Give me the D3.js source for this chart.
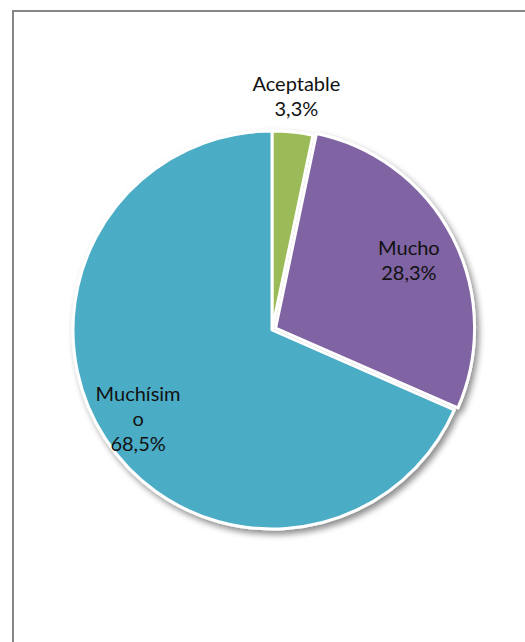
<!DOCTYPE html>
<html>
<head>
<meta charset="utf-8">
<script src="https://cdn.jsdelivr.net/npm/d3@7/dist/d3.min.js"></script>
<style>
  html, body { margin: 0; padding: 0; background: #fff; }
  svg { display: block; }
</style>
</head>
<body>
<svg id="chart" width="525" height="642"></svg>
<script>
// Survey answers and their shares (%)
const categories = ["Aceptable", "Mucho", "Muchísimo"];
const values = [3.3, 28.3, 68.5];
const valueLabels = ["3,3%", "28,3%", "68,5%"];
// Category text as it wraps inside the label box
const labelLines = [["Aceptable"], ["Mucho"], ["Muchísim", "o"]];
const colors = ["#9BBB59", "#8064A2", "#4BACC6"];

const width = 525, height = 642;
const cx = 272, cy = 330, radius = 199;
// Outward offset of each slice and radius at which each label sits
const explode = [0, 4, 0];
const labelRadius = [236, 154, 160];

const svg = d3.select("#chart");

// Chart area frame
svg.append("rect")
  .attr("x", 13).attr("y", 11)
  .attr("width", width).attr("height", height)
  .attr("fill", "#fff")
  .attr("stroke", "#878787")
  .attr("stroke-width", 2);

const defs = svg.append("defs");
const shadow = defs.append("filter")
  .attr("id", "pieShadow")
  .attr("x", "-20%").attr("y", "-20%")
  .attr("width", "140%").attr("height", "140%");
shadow.append("feDropShadow")
  .attr("dx", 3).attr("dy", 4)
  .attr("stdDeviation", 3)
  .attr("flood-color", "#000")
  .attr("flood-opacity", 0.45);

const pie = d3.pie().sort(null).value(d => d);
const arcs = pie(values);
const arc = d3.arc().innerRadius(0).outerRadius(radius);

const g = svg.append("g")
  .attr("transform", `translate(${cx},${cy})`);

const slices = g.append("g").attr("filter", "url(#pieShadow)");
slices.selectAll("path")
  .data(arcs)
  .join("path")
  .attr("transform", (d, i) => {
    const a = (d.startAngle + d.endAngle) / 2;
    return `translate(${Math.sin(a) * explode[i]},${-Math.cos(a) * explode[i]})`;
  })
  .attr("d", arc)
  .attr("fill", (d, i) => colors[i])
  .attr("stroke", "#fff")
  .attr("stroke-width", 3)
  .attr("stroke-linejoin", "round");

// Data labels: category name over the percentage
const lineHeight = 25;
const labels = g.append("g")
  .attr("font-family", "Lato, 'Open Sans', sans-serif")
  .attr("font-size", 20)
  .attr("fill", "#111")
  .attr("text-anchor", "middle");

arcs.forEach((d, i) => {
  const la = d3.arc().innerRadius(labelRadius[i]).outerRadius(labelRadius[i]);
  const [x, y] = la.centroid(d);
  const lines = labelLines[i].concat([valueLabels[i]]);
  const top = y - (lines.length - 1) * lineHeight / 2;
  const t = labels.append("text")
    .attr("x", x).attr("y", top)
    .attr("dominant-baseline", "central");
  lines.forEach((s, k) => {
    t.append("tspan")
      .attr("x", x)
      .attr("y", top + k * lineHeight)
      .text(s);
  });
});
</script>
</body>
</html>
